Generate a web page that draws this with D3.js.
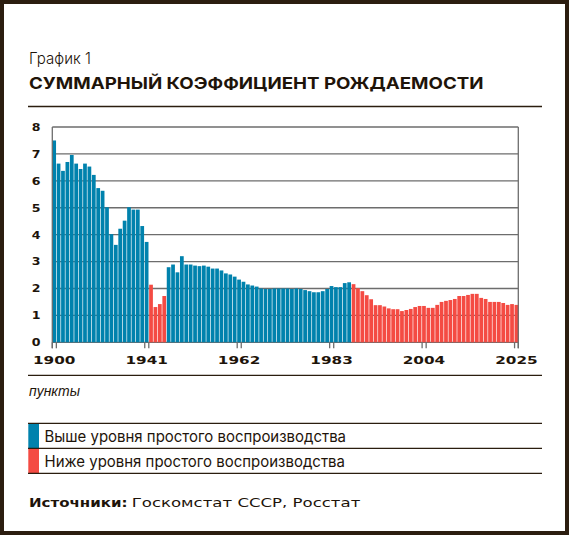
<!DOCTYPE html>
<html>
<head>
<meta charset="utf-8">
<script src="https://cdn.jsdelivr.net/npm/d3@7"></script>
<style>
  html, body { margin: 0; padding: 0; background: #fff; }
  svg { display: block; }
</style>
</head>
<body>
<svg id="chart" width="569" height="535"></svg>
<script>
// ---------- DATA ----------
const years = [
  "1900",
  "1921","1922","1923","1924","1925","1926","1927","1928","1929","1930",
  "1931","1932","1933","1934","1935","1936","1937","1938","1939","1940",
  "1941","1942","1943","1944","1945","1946","1947","1948","1949","1950",
  "1951","1952","1953","1954","1955","1956","1957","1958","1959","1960",
  "1961","1962","1963","1964","1965","1966","1967","1968","1969","1970",
  "1971","1972","1973","1974","1975","1976","1977","1978","1979","1980",
  "1981","1982","1983","1984","1985","1986","1987","1988","1989","1990",
  "1991","1992","1993","1994","1995","1996","1997","1998","1999","2000",
  "2001","2002","2003","2004","2005","2006","2007","2008","2009","2010",
  "2011","2012","2013","2014","2015","2016","2017","2018","2019","2020",
  "2021","2022","2023","2024","2025"
];
const tfr = [
  7.50,
  6.64,6.37,6.70,6.96,6.64,6.44,6.64,6.53,6.22,5.73,
  5.63,5.02,4.02,3.62,4.22,4.52,5.02,4.93,4.93,4.32,
  3.73,2.14,1.31,1.42,1.72,2.79,2.89,2.60,3.20,2.89,
  2.89,2.85,2.83,2.85,2.81,2.74,2.74,2.67,2.56,2.52,
  2.44,2.33,2.25,2.15,2.11,2.07,2.00,1.98,1.98,2.00,
  2.00,2.00,2.00,1.98,2.00,1.98,1.94,1.90,1.86,1.86,
  1.90,1.98,2.09,2.05,2.05,2.20,2.23,2.16,2.01,1.90,
  1.75,1.60,1.38,1.38,1.33,1.26,1.23,1.23,1.16,1.20,
  1.24,1.31,1.35,1.35,1.28,1.28,1.39,1.50,1.54,1.57,
  1.61,1.72,1.72,1.76,1.80,1.80,1.65,1.61,1.50,1.50,
  1.50,1.46,1.39,1.42,1.39
];
// periods below replacement level (first and last year, inclusive)
const belowPeriods = [[1942, 1945], [1988, 2025]];
const xTickLabels = ["1900","1941","1962","1983","2004","2025"];
const yTickValues = [0,1,2,3,4,5,6,7,8];
const legendLabels = ["Выше уровня простого воспроизводства", "Ниже уровня простого воспроизводства"];
const chartLabel = "График 1";
const chartTitle = "СУММАРНЫЙ КОЭФФИЦИЕНТ РОЖДАЕМОСТИ";
const unitLabel = "пункты";
const sourceBold = "Источники:";
const sourceText = "Госкомстат СССР, Росстат";

// ---------- STYLE ----------
const BLUE = "#0082ad", RED = "#f44b43", INK = "#1e140a", FRAME = "#2b1d0f", GRID = "#6d6d6d";
const WIDE = "'DejaVu Sans', sans-serif";
const GROT = "Inter, 'Noto Sans', sans-serif";

const svg = d3.select("#chart");

// frame
svg.append("rect").attr("x", 2).attr("y", 2).attr("width", 565).attr("height", 531)
  .attr("fill", "#fff").attr("stroke", FRAME).attr("stroke-width", 4);

function fitText(sel, target) {
  const n = sel.node();
  const w = n.getComputedTextLength();
  sel.attr("textLength", target).attr("lengthAdjust", "spacingAndGlyphs");
  return w;
}

// header
fitText(svg.append("text").attr("x", 29).attr("y", 63.5).attr("fill", INK)
  .style("font-family", GROT).style("font-weight", 300).style("font-size", "16px")
  .text(chartLabel), 62);
fitText(svg.append("text").attr("x", 29).attr("y", 89.3).attr("fill", INK)
  .style("font-family", GROT).style("font-weight", 700).style("font-size", "16px")
  .text(chartTitle), 454.5);
svg.append("line").attr("x1", 28).attr("x2", 542).attr("y1", 106.5).attr("y2", 106.5)
  .attr("stroke", FRAME).attr("stroke-width", 1.3);

// ---------- SCALES ----------
const x = d3.scaleBand().domain(years).range([52.3, 518.3]).paddingInner(0.15).paddingOuter(0);
const y = d3.scaleLinear().domain([0, 8]).range([342.3, 127]);

const isBelow = yr => belowPeriods.some(([a, b]) => +yr >= a && +yr <= b);

// gridlines
const grid = svg.append("g");
grid.selectAll("line").data(yTickValues).join("line")
  .attr("x1", 52.3).attr("x2", 518.3)
  .attr("y1", d => y(d)).attr("y2", d => y(d))
  .attr("stroke", GRID).attr("stroke-width", 1.3);

// bars
const data = years.map((yr, i) => ({ yr, v: tfr[i] }));
svg.append("g").selectAll("rect").data(data).join("rect")
  .attr("x", d => x(d.yr))
  .attr("width", x.bandwidth())
  .attr("y", d => y(d.v))
  .attr("height", d => y(0) - y(d.v))
  .attr("fill", d => isBelow(d.yr) ? RED : BLUE);

// side frame lines
[52.3, 518.3].forEach(px => {
  svg.append("line").attr("x1", px).attr("x2", px).attr("y1", y(8)).attr("y2", y(0) + 6)
    .attr("stroke", GRID).attr("stroke-width", 1.3);
});

// x ticks (double ticks at band edges)
const tickG = svg.append("g");
xTickLabels.forEach(lbl => {
  const x0 = x(lbl), x1 = x(lbl) + x.step() * 0.92;
  [x0, Math.min(x1, 518.3)].forEach(px => {
    tickG.append("line").attr("x1", px).attr("x2", px).attr("y1", y(0)).attr("y2", y(0) + 6)
      .attr("stroke", GRID).attr("stroke-width", 1.3);
  });
});

// x labels (wide bold)
const labelSize = 11;
const probe = svg.append("text").style("font-family", WIDE).style("font-weight", 700)
  .style("font-size", labelSize + "px").text("1900");
const kx = 42.5 / probe.node().getComputedTextLength();
probe.remove();

svg.append("g").selectAll("text").data(xTickLabels).join("text")
  .attr("transform", d => `translate(${x(d) + x.bandwidth() / 2},363.5) scale(${kx},1)`)
  .attr("text-anchor", "middle").attr("fill", INK)
  .style("font-family", WIDE).style("font-weight", 700).style("font-size", labelSize + "px")
  .text(d => d);

// y labels
svg.append("g").selectAll("text").data(yTickValues).join("text")
  .attr("transform", d => `translate(36.2,${y(d) + 3.9}) scale(${kx * 0.88},1)`)
  .attr("text-anchor", "middle").attr("fill", INK)
  .style("font-family", WIDE).style("font-weight", 700).style("font-size", (labelSize - 0.7) + "px")
  .text(d => d);

// line under chart
svg.append("line").attr("x1", 28).attr("x2", 542).attr("y1", 375.3).attr("y2", 375.3)
  .attr("stroke", FRAME).attr("stroke-width", 1.3);

// unit label
fitText(svg.append("text").attr("x", 29).attr("y", 395.5).attr("fill", INK)
  .style("font-family", "'Liberation Sans', sans-serif").style("font-style", "italic")
  .style("font-size", "14px").text(unitLabel), 51);

// legend
const legendColors = [BLUE, RED];
const legTop = 423.3, rowH = 25;
legendLabels.forEach((lbl, i) => {
  const ty = legTop + i * rowH;
  svg.append("rect").attr("x", 28.3).attr("y", ty).attr("width", 10.7).attr("height", rowH)
    .attr("fill", legendColors[i]);
  fitText(svg.append("text").attr("x", 44.5).attr("y", ty + 18.4).attr("fill", INK)
    .style("font-family", GROT).style("font-weight", 400).style("font-size", "15.5px")
    .text(lbl), i === 0 ? 301.5 : 300.5);
});
[0, 1, 2].forEach(i => {
  svg.append("line").attr("x1", 28).attr("x2", 542)
    .attr("y1", legTop + i * rowH).attr("y2", legTop + i * rowH)
    .attr("stroke", FRAME).attr("stroke-width", 1.3);
});

// source
fitText(svg.append("text").attr("x", 29).attr("y", 506.5).attr("fill", INK)
  .style("font-family", WIDE).style("font-weight", 700).style("font-size", "11.5px")
  .text(sourceBold), 98.5);
fitText(svg.append("text").attr("x", 131.7).attr("y", 506.5).attr("fill", INK)
  .style("font-family", WIDE).style("font-weight", 400).style("font-size", "11.5px")
  .text(sourceText), 228.6);
</script>
</body>
</html>
